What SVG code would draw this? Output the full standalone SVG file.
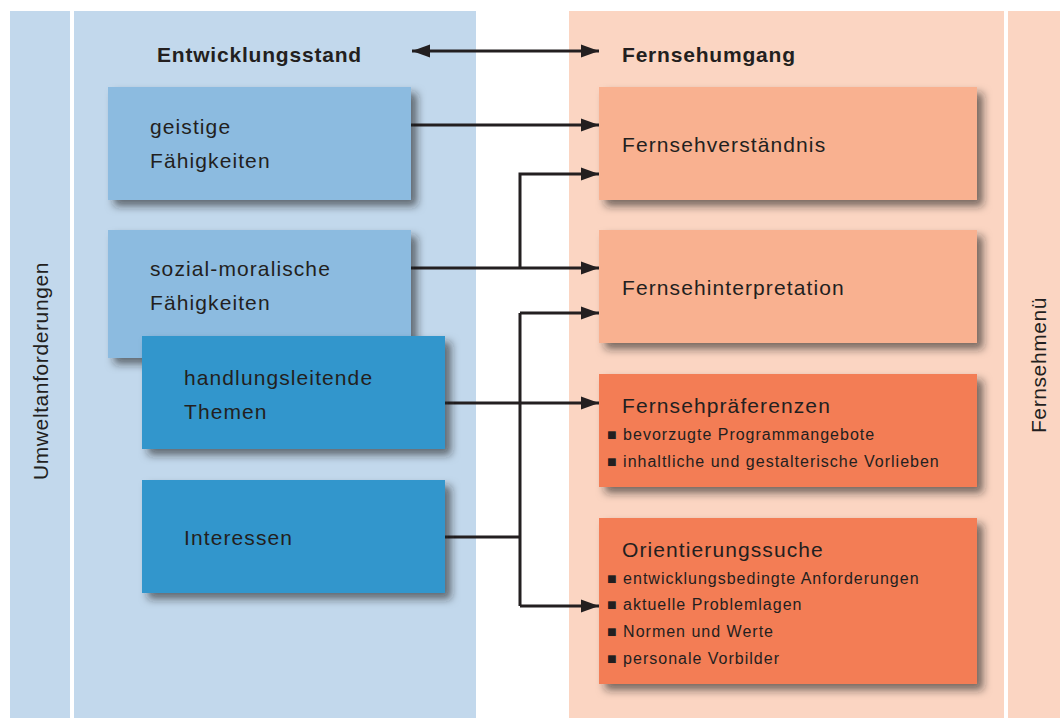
<svg xmlns="http://www.w3.org/2000/svg" width="1060" height="718" viewBox="0 0 1060 718">
<style>
.t{font-family:"Liberation Sans",Arial,sans-serif;fill:#231F20;}
.h{font-size:21px;font-weight:bold;letter-spacing:0.8px;}
.b{font-size:21px;letter-spacing:1.1px;}
.s{font-size:16px;letter-spacing:1px;}
.v{font-size:21px;letter-spacing:0.6px;}
.c{fill:none;stroke:#231F20;stroke-width:3;}
.lb{fill:#8CBBE0;}
.db{fill:#3196CC;}
.lo{fill:#F9B190;}
.do{fill:#F37D55;}
</style>
<defs>
<filter id="sh" x="-10%" y="-10%" width="130%" height="140%">
<feDropShadow dx="6" dy="6" stdDeviation="4" flood-color="#222222" flood-opacity="0.6"/>
</filter>
<marker id="ah" markerUnits="userSpaceOnUse" markerWidth="20" markerHeight="16" refX="18" refY="7.5" orient="auto-start-reverse">
<path d="M0,1 L18,7.5 L0,14 z" fill="#231F20"/>
</marker>
</defs>
<rect width="1060" height="718" fill="#ffffff"/>
<g id="panels">
<rect x="10" y="11" width="60" height="707" fill="#C2D8EC"/>
<rect x="74" y="11" width="402" height="707" fill="#C2D8EC"/>
<rect x="569" y="11" width="435" height="707" fill="#FBD5C2"/>
<rect x="1008" y="11" width="52" height="707" fill="#FBD5C2"/>
<text class="t v" text-anchor="middle" transform="translate(48,371) rotate(-90)">Umweltanforderungen</text>
<text class="t v" text-anchor="middle" transform="translate(1046,365) rotate(-90)">Fernsehmenü</text>
<text class="t h" x="157" y="62">Entwicklungsstand</text>
<text class="t h" x="622" y="62">Fernsehumgang</text>
</g>
<g id="connectors">
<path class="c" d="M412,51 H599" marker-start="url(#ah)" marker-end="url(#ah)"/>
<path class="c" d="M411,125 H599" marker-end="url(#ah)"/>
<path class="c" d="M411,268 H599" marker-end="url(#ah)"/>
<path class="c" d="M520,268 V174 H599" marker-end="url(#ah)"/>
<path class="c" d="M445,403 H599" marker-end="url(#ah)"/>
<path class="c" d="M445,537 H520"/>
<path class="c" d="M520,313 V606"/>
<path class="c" d="M520,313 H599" marker-end="url(#ah)"/>
<path class="c" d="M520,606 H599" marker-end="url(#ah)"/>
</g>
<g id="geistige">
<rect class="lb" x="108" y="87" width="303" height="113" filter="url(#sh)"/>
<text class="t b" x="150" y="134">geistige</text>
<text class="t b" x="150" y="168">Fähigkeiten</text>
</g>
<g id="sozial">
<rect class="lb" x="108" y="230" width="303" height="128" filter="url(#sh)"/>
<text class="t b" x="150" y="276">sozial-moralische</text>
<text class="t b" x="150" y="310">Fähigkeiten</text>
</g>
<g id="handlung">
<rect class="db" x="142" y="336" width="303" height="113" filter="url(#sh)"/>
<text class="t b" x="184" y="385">handlungsleitende</text>
<text class="t b" x="184" y="419">Themen</text>
</g>
<g id="interessen">
<rect class="db" x="142" y="480" width="303" height="113" filter="url(#sh)"/>
<text class="t b" x="184" y="545">Interessen</text>
</g>
<g id="verstaendnis">
<rect class="lo" x="599" y="87" width="378" height="113" filter="url(#sh)"/>
<text class="t b" x="622" y="152">Fernsehverständnis</text>
</g>
<g id="interpretation">
<rect class="lo" x="599" y="230" width="378" height="113" filter="url(#sh)"/>
<text class="t b" x="622" y="295">Fernsehinterpretation</text>
</g>
<g id="praeferenzen">
<rect class="do" x="599" y="374" width="378" height="113" filter="url(#sh)"/>
<text class="t b" x="622" y="413">Fernsehpräferenzen</text>
<text class="t s" x="607" y="440">■ bevorzugte Programmangebote</text>
<text class="t s" x="607" y="467">■ inhaltliche und gestalterische Vorlieben</text>
</g>
<g id="orientierung">
<rect class="do" x="599" y="518" width="378" height="166" filter="url(#sh)"/>
<text class="t b" x="622" y="557">Orientierungssuche</text>
<text class="t s" x="607" y="584">■ entwicklungsbedingte Anforderungen</text>
<text class="t s" x="607" y="610">■ aktuelle Problemlagen</text>
<text class="t s" x="607" y="637">■ Normen und Werte</text>
<text class="t s" x="607" y="664">■ personale Vorbilder</text>
</g>
</svg>
